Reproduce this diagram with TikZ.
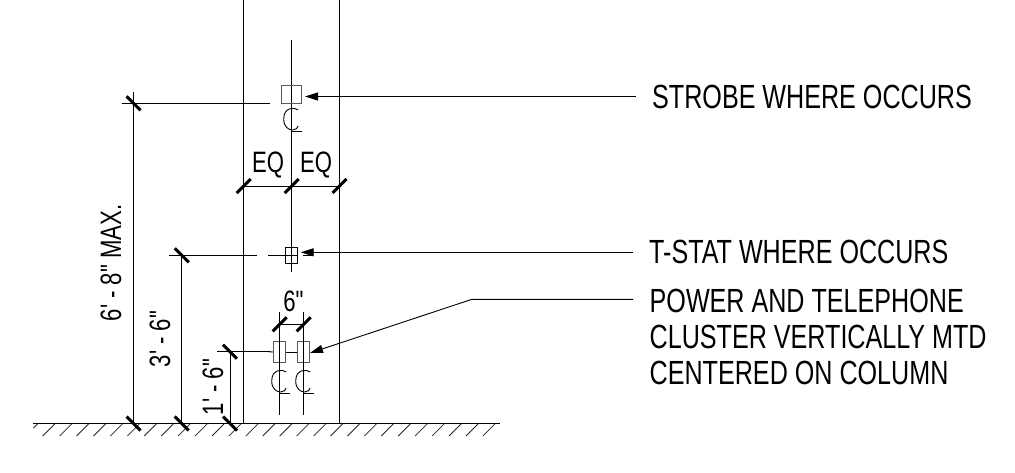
\documentclass[tikz,border=0pt]{standalone}
\usepackage{fontspec}
\newfontfamily\cadfont[FakeStretch=0.75]{Liberation Sans}
\usetikzlibrary{arrows.meta}
\tikzset{
  x=1pt,y=-1pt,
  thin line/.style={line width=0.9pt,black},
  ground line/.style={line width=1.5pt,black},
  tick mark/.style={line width=3pt,black},
  hatch line/.style={line width=0.8pt,black!85},
  device/.style={line width=1pt,black!65},
  leader/.style={line width=0.9pt,black,-{Triangle[length=13pt,width=8pt]}},
  label text/.style={font=\cadfont\fontsize{33.5}{33.5}\selectfont,inner sep=0pt,anchor=west},
  dim text/.style={font=\cadfont\fontsize{29.5}{29.5}\selectfont,inner sep=0pt},
}
\newcommand{\tickat}[2]{\draw[tick mark] (#1-7,#2+7) -- (#1+7,#2-7);}
\newcommand{\backtick}[2]{\draw[tick mark] (#1-7,#2-7) -- (#1+7,#2+7);}
\newcommand{\clsym}[2]{%
  \draw[thin line] (#1+6.5,#2-9) .. controls (#1+3,#2-12) and (#1-8,#2-12) .. (#1-8,#2) .. controls (#1-8,#2+8) and (#1-3,#2+11) .. (#1+1,#2+11) .. controls (#1+4,#2+11) and (#1+6,#2+9) .. (#1+6.5,#2+7);
  \draw[thin line] (#1,#2+12.5) -- (#1+10,#2+12.5);
}
\begin{document}
\begin{tikzpicture}
\useasboundingbox (0,0) rectangle (1015,473);
% ground
\coordinate (gl) at (33,423.5); \coordinate (gr) at (500,423.5);
\draw[ground line] (gl) -- (gr);
\foreach \i in {0,...,26}{
  \draw[hatch line] (42.7+16.93*\i,436) -- (54.7+16.93*\i,424);
}
\draw[hatch line] (33.5,428) -- (37.5,424);
% column
\draw[thin line] (243.7,0) -- (243.7,423.5);
\draw[thin line] (339.5,0) -- (339.5,423.5);
% centre line
\draw[thin line] (291.7,40) -- (291.7,272);
% strobe
\node[draw,device,minimum width=19.6pt,minimum height=18.7pt,inner sep=0pt] (strobe) at (291.5,94.4) {};
\clsym{291.7}{119}
% t-stat
\node[draw,line width=0.9pt,black,minimum width=11.6pt,minimum height=16pt,inner sep=0pt] (tstat) at (291.5,255.3) {};
\draw[thin line] (tstat.west) -- (tstat.east);
\draw[thin line] (268.3,255.3) -- (tstat.west);
\draw[thin line] (tstat.east) ++(5.5,0) -- ++(10,0);
% power boxes
\node[draw,device,minimum width=12.4pt,minimum height=20.6pt,inner sep=0pt] (boxa) at (279.5,352) {};
\node[draw,device,minimum width=12.4pt,minimum height=20.6pt,inner sep=0pt] (boxb) at (303.7,352) {};
\draw[thin line] (268,351.7) -- (boxa.west);
\draw[thin line] (boxa.east) -- (boxb.west);
\draw[thin line] (279.7,312) -- (279.7,415);
\draw[thin line] (303.7,312) -- (303.7,415);
\clsym{279.7}{381}
\clsym{303.7}{381}
% EQ dim
\draw[thin line] (243.7,186) -- (339.5,186);
\tickat{243.7}{186}\tickat{291.7}{186}\tickat{339.5}{186}
\node[dim text] (eqa) at (268,165) {EQ};
\node[dim text] (eqb) at (316,165) {EQ};
% 6 in dim
\draw[thin line] (279.7,324.3) -- (303.7,324.3);
\tickat{279.7}{324.3}\tickat{303.7}{324.3}
\node[dim text] (six) at (293.5,301.5) {6"};
% height dims
\draw[thin line] (121.7,103.3) -- (270,103.3);
\draw[thin line] (133.6,92) -- (133.6,423.5);
\backtick{133.6}{103.3}\backtick{133.6}{423.5}
\draw[thin line] (169.3,255.3) -- (256.7,255.3);
\draw[thin line] (181.7,255.3) -- (181.7,423.5);
\backtick{181.7}{255.3}\backtick{181.7}{423.5}
\draw[thin line] (217,351.7) -- (270,351.7);
\draw[thin line] (230,351.7) -- (230,423.5);
\backtick{230}{351.7}\backtick{230}{423.5}
\node[dim text,rotate=90] (h1) at (111,263) {6' - 8" MAX.};
\node[dim text,rotate=90] (h2) at (160,339) {3' - 6"};
\node[dim text,rotate=90] (h3) at (213,387) {1' - 6"};
% labels
\node[label text] (l1) at (652,96.5) {STROBE WHERE OCCURS};
\node[label text] (l2) at (649,252.3) {T-STAT WHERE OCCURS};
\node[label text] (l3) at (649.5,300.8) {POWER AND TELEPHONE};
\node[label text] (l4) at (649.5,336.5) {CLUSTER VERTICALLY MTD};
\node[label text] (l5) at (649.5,372.7) {CENTERED ON COLUMN};
% leaders
\coordinate (a1) at (636,96.5); \coordinate (a2) at (633,252.3); \coordinate (a3) at (633,299.3); \coordinate (a3b) at (472,299.3);
\draw[leader] (a1) -- (305,96.5);
\draw[leader] (a2) -- (300.7,252.3);
\draw[leader] (a3) -- (a3b) -- (310,353);
\end{tikzpicture}
\end{document}
